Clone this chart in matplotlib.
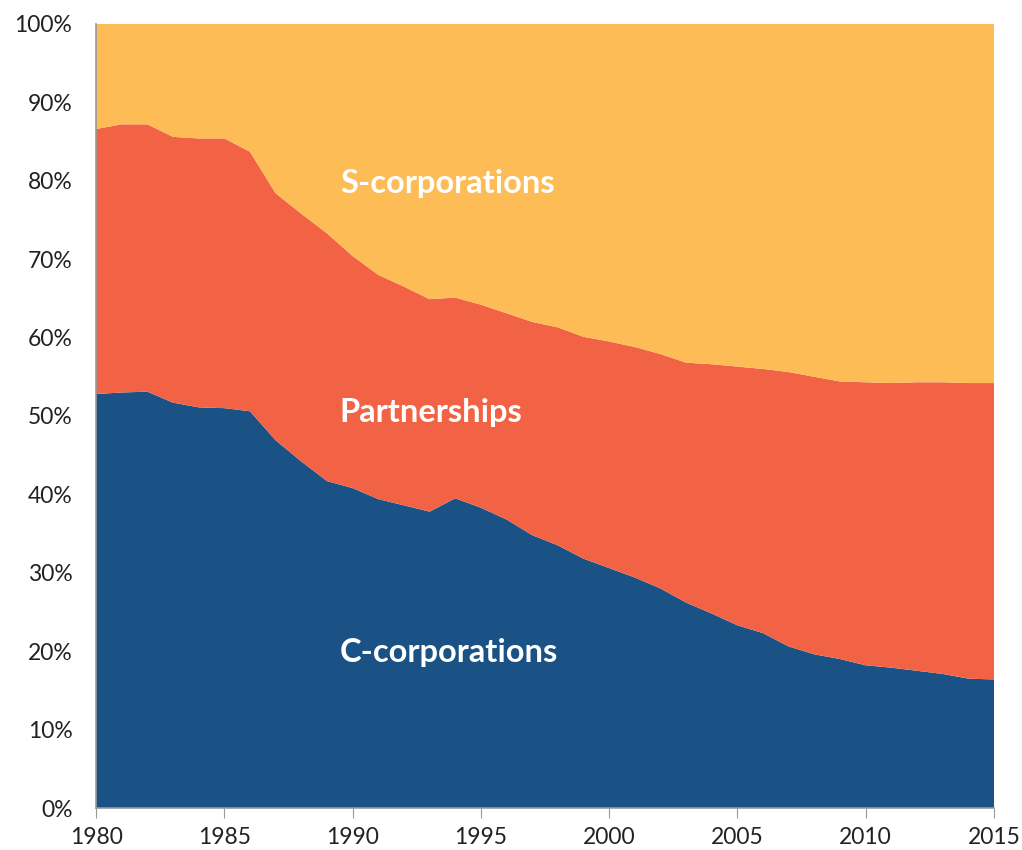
import matplotlib.pyplot as plt
from matplotlib.ticker import FuncFormatter

years = list(range(1980, 2016))

# shares of business income by legal form, percent
c_corp = [52.8, 53.0, 53.1, 51.7, 51.1, 51.0, 50.6, 46.9, 44.2, 41.7,
          40.8, 39.4, 38.6, 37.8, 39.5, 38.3, 36.8, 34.8, 33.5, 31.8,
          30.6, 29.4, 28.0, 26.2, 24.8, 23.3, 22.3, 20.6, 19.6, 19.0,
          18.2, 17.9, 17.5, 17.1, 16.5, 16.4]
partnerships = [33.8, 34.2, 34.1, 33.9, 34.3, 34.4, 33.1, 31.5, 31.6, 31.6,
                29.6, 28.6, 27.9, 27.1, 25.6, 25.9, 26.3, 27.2, 27.8, 28.3,
                28.9, 29.4, 29.9, 30.6, 31.8, 33.0, 33.7, 35.0, 35.4, 35.4,
                36.1, 36.3, 36.8, 37.2, 37.7, 37.8]
s_corp = [100 - c - p for c, p in zip(c_corp, partnerships)]

labels = ["C-corporations", "Partnerships", "S-corporations"]
colors = ["#1A5285", "#F26346", "#FDBC55"]

plt.rcParams["font.family"] = ["Lato", "DejaVu Sans"]

fig = plt.figure(figsize=(10.22, 8.5), dpi=100)
ax = fig.add_axes([0.094, 0.0494, 0.8786, 0.9224])
ax.stackplot(years, c_corp, partnerships, s_corp, colors=colors, linewidth=0)

ax.set_xlim(1980, 2015)
ax.set_ylim(0, 100)
ax.set_xticks(range(1980, 2016, 5))
ax.set_yticks(range(0, 101, 10))
ax.yaxis.set_major_formatter(FuncFormatter(lambda v, _: f"{v:.0f}%"))
ax.tick_params(axis="y", length=0, pad=17, labelsize=16.5, labelcolor="#222222")
ax.tick_params(axis="x", length=7, color="#999999", pad=7, labelsize=16.5,
               labelcolor="#222222")
for side in ["top", "right"]:
    ax.spines[side].set_visible(False)
for side in ["left", "bottom"]:
    ax.spines[side].set_color("#999999")
    ax.spines[side].set_linewidth(1.2)

text_kw = dict(color="white", fontsize=23.5, fontweight="bold", ha="left", va="center")
ax.text(1989.5, 19.8, labels[0], **text_kw)
ax.text(1989.5, 50.5, labels[1], **text_kw)
ax.text(1989.5, 79.7, labels[2], **text_kw)

fig.savefig("out.png", dpi=100)
